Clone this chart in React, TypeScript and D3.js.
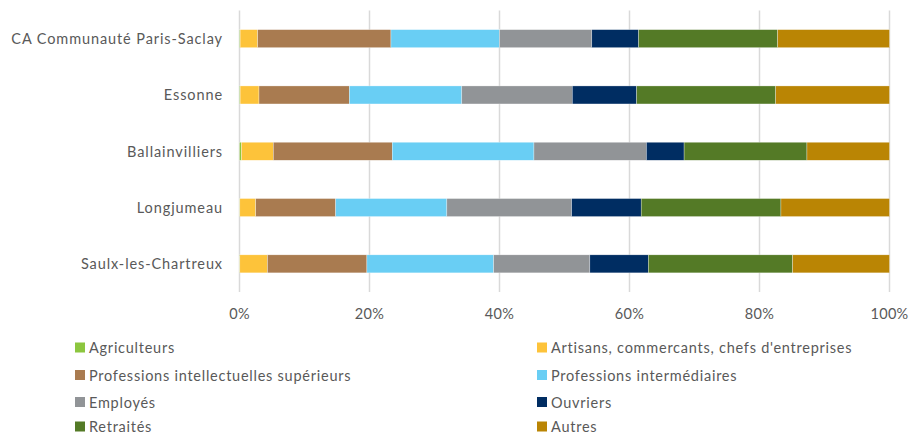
import React from "react";
import * as d3 from "d3";

const categories = [
  "CA Communauté Paris-Saclay",
  "Essonne",
  "Ballainvilliers",
  "Longjumeau",
  "Saulx-les-Chartreux",
];

const seriesNames = [
  "Agriculteurs",
  "Artisans, commercants, chefs d'entreprises",
  "Professions intellectuelles supérieurs",
  "Professions intermédiaires",
  "Employés",
  "Ouvriers",
  "Retraités",
  "Autres",
];

const seriesColors = [
  "#8CC63F",
  "#FDC33A",
  "#A97B50",
  "#69CEF4",
  "#919497",
  "#002D62",
  "#547A26",
  "#BA8504",
];

// values in % per category, same order as seriesNames
const agriculteurs = [0.1, 0.1, 0.3, 0.05, 0.05];
const artisans = [2.7, 2.9, 4.9, 2.45, 4.25];
const profIntellectuelles = [20.5, 13.9, 18.3, 12.3, 15.3];
const profIntermediaires = [16.7, 17.3, 21.8, 17.1, 19.5];
const employes = [14.2, 17.0, 17.3, 19.2, 14.8];
const ouvriers = [7.2, 9.9, 5.8, 10.7, 9.0];
const retraites = [21.4, 21.4, 18.9, 21.5, 22.2];
const autres = [17.2, 17.5, 12.7, 16.7, 14.9];

const tickValues = [0, 0.2, 0.4, 0.6, 0.8, 1];

const seriesValues = [
  agriculteurs,
  artisans,
  profIntellectuelles,
  profIntermediaires,
  employes,
  ouvriers,
  retraites,
  autres,
];

const W = 909;
const H = 436;
const FONT = "Lato, 'Open Sans', sans-serif";
const TEXT = "#595959";

export default function App() {
  const x = d3.scaleLinear().domain([0, 1]).range([239.5, 889.5]);
  const y = d3
    .scaleBand<string>()
    .domain(categories)
    .range([10.5, 292])
    .paddingInner(0.68)
    .paddingOuter(0.34);

  const rows = categories.map((c, i) => {
    const obj: Record<string, number | string> = { cat: c };
    const total = d3.sum(seriesValues, (s) => s[i]);
    seriesNames.forEach((n, k) => {
      obj[n] = seriesValues[k][i] / total;
    });
    return obj;
  });
  const stack = d3.stack<Record<string, number | string>>().keys(seriesNames);
  const layers = stack(rows as any);

  const legendRows = [347.5, 375, 402, 426.5];
  const legendCols = [75, 537];

  return (
    <svg
      width={W}
      height={H}
      style={{ position: "absolute", left: 0, top: 0, background: "#fff" }}
      fontFamily={FONT}
    >
      {/* gridlines */}
      {tickValues.map((t) => (
        <line
          key={t}
          x1={x(t)}
          x2={x(t)}
          y1={10.5}
          y2={292}
          stroke="#D9D9D9"
          strokeWidth={1.5}
        />
      ))}
      {/* bars */}
      {layers.map((layer, k) => (
        <g key={seriesNames[k]} fill={seriesColors[k]}>
          {layer.map((d, i) => (
            <rect
              key={i}
              x={x(d[0])}
              y={y(categories[i])}
              width={Math.max(0, x(d[1]) - x(d[0]))}
              height={y.bandwidth()}
              stroke="#ffffff"
              strokeOpacity={0.6}
              strokeWidth={0.5}
            />
          ))}
        </g>
      ))}
      {/* category labels */}
      {categories.map((c) => (
        <text
          key={c}
          x={223}
          y={(y(c) as number) + y.bandwidth() / 2}
          textAnchor="end"
          dominantBaseline="central"
          fontSize={14.5}
          fill={TEXT}
          letterSpacing={0.9}
        >
          {c}
        </text>
      ))}
      {/* x tick labels */}
      {tickValues.map((t) => (
        <text
          key={t}
          x={x(t)}
          y={313}
          textAnchor="middle"
          dominantBaseline="central"
          fontSize={14.5}
          fill={TEXT}
          letterSpacing={0.3}
        >
          {d3.format(".0%")(t)}
        </text>
      ))}
      {/* legend */}
      {seriesNames.map((n, k) => {
        const col = k % 2;
        const row = Math.floor(k / 2);
        const lx = legendCols[col];
        const ly = legendRows[row];
        return (
          <g key={n}>
            <rect x={lx} y={ly - 5} width={10} height={10} fill={seriesColors[k]} />
            <text
              x={lx + 14}
              y={ly}
              dominantBaseline="central"
              fontSize={14.5}
              fill={TEXT}
              letterSpacing={0.75}
            >
              {n}
            </text>
          </g>
        );
      })}
    </svg>
  );
}
